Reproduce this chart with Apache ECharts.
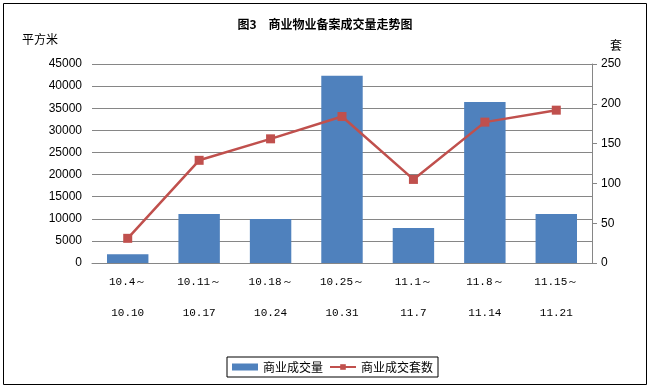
<!DOCTYPE html>
<html><head><meta charset="utf-8">
<script src="https://cdn.jsdelivr.net/npm/echarts@6/dist/echarts.min.js"></script>
<style>html,body{margin:0;padding:0;background:#fff}#c{width:650px;height:388px}</style>
</head><body><div id="c"></div>
<script>
var categories = ['10.4～\n10.10','10.11～\n10.17','10.18～\n10.24','10.25～\n10.31','11.1～\n11.7','11.8～\n11.14','11.15～\n11.21'];
var areaValues = [2000, 11100, 9950, 42350, 7900, 36400, 11100];
var countValues = [31, 129, 156, 184, 105, 177, 192];
var leftTicks = {min: 0, max: 45000, interval: 5000};
var rightTicks = {min: 0, max: 250, interval: 50};

var font = '"Noto Sans CJK SC", "DejaVu Sans", sans-serif';
var mono = '"Liberation Mono", "DejaVu Sans Mono", monospace';
var sans = '"Liberation Sans", Arial, sans-serif';
var chart = echarts.init(document.getElementById('c'));
chart.setOption({
  animation: false,
  backgroundColor: '#fff',
  textStyle: {fontFamily: font},
  title: {
    text: '图3　商业物业备案成交量走势图',
    left: 'center', top: 13,
    textStyle: {fontSize: 12, fontWeight: 'bold', color: '#000', fontFamily: font}
  },
  graphic: [
    {type: 'rect', shape: {x: 3.5, y: 3.5, width: 643, height: 381}, style: {fill: 'none', stroke: '#000', lineWidth: 1}, silent: true},
    {type: 'text', left: 22, top: 33, style: {text: '平方米', fill: '#000', font: '12px ' + font}},
    {type: 'text', left: 610, top: 39, style: {text: '套', fill: '#000', font: '12px ' + font}}
  ],
  legend: {
    left: 227, top: 357,
    padding: [4, 5, 4, 5],
    borderColor: '#000', borderWidth: 1,
    itemWidth: 26, itemHeight: 7, itemGap: 6,
    textStyle: {fontSize: 12, color: '#000', fontFamily: font},
    data: [{name: '商业成交量', icon: 'rect'}, {name: '商业成交套数'}]
  },
  grid: {left: 92, right: 58, top: 64, bottom: 125},
  xAxis: {
    type: 'category', data: categories,
    axisLine: {lineStyle: {color: '#868686'}},
    axisTick: {show: false},
    axisLabel: {color: '#000', fontSize: 11, lineHeight: 31, margin: 4, interval: 0, fontFamily: mono}
  },
  yAxis: [
    {
      type: 'value', min: leftTicks.min, max: leftTicks.max, interval: leftTicks.interval,
      axisLine: {show: false}, axisTick: {show: false},
      axisLabel: {color: '#000', fontSize: 12, margin: 10, fontFamily: sans, formatter: function (v) { return String(v); }},
      splitLine: {lineStyle: {color: '#868686'}}
    },
    {
      type: 'value', min: rightTicks.min, max: rightTicks.max, interval: rightTicks.interval,
      position: 'right',
      axisLine: {show: true, lineStyle: {color: '#868686'}},
      axisTick: {show: true, length: 5, lineStyle: {color: '#868686'}},
      axisLabel: {color: '#000', fontSize: 12, margin: 9, fontFamily: sans},
      splitLine: {show: false}
    }
  ],
  series: [
    {
      name: '商业成交量', type: 'bar', data: areaValues, yAxisIndex: 0,
      barCategoryGap: '42%',
      itemStyle: {color: '#4F81BD'}
    },
    {
      name: '商业成交套数', type: 'line', data: countValues, yAxisIndex: 1,
      symbol: 'rect', symbolSize: 9,
      lineStyle: {color: '#C0504D', width: 2.5},
      itemStyle: {color: '#C0504D'}
    }
  ]
});
</script></body></html>
